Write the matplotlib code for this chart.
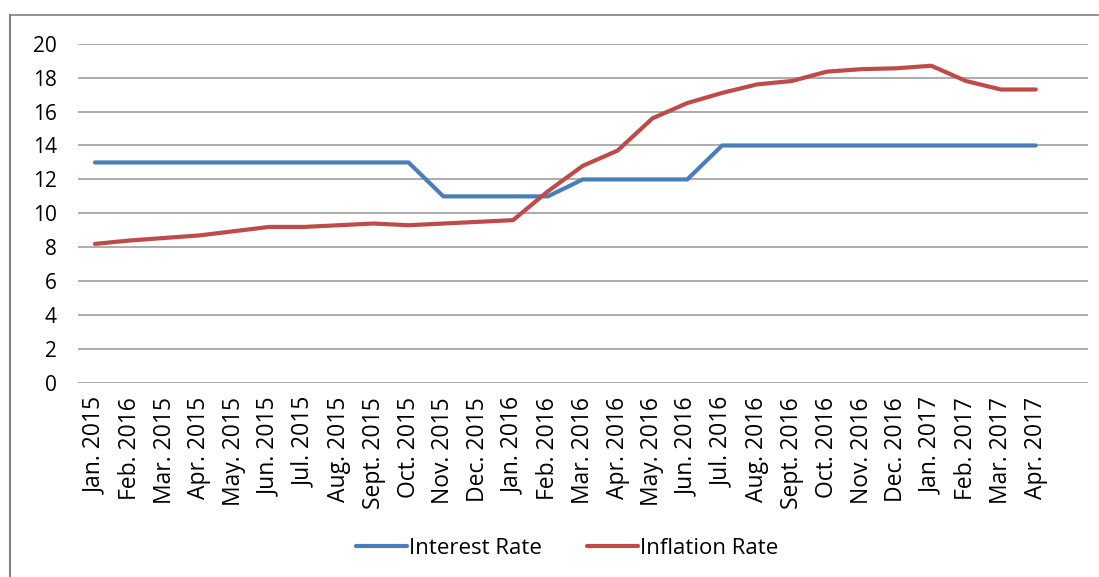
import matplotlib
matplotlib.use("Agg")
import matplotlib.pyplot as plt
from matplotlib.lines import Line2D

categories = ["Jan. 2015", "Feb. 2016", "Mar. 2015", "Apr. 2015", "May. 2015", "Jun. 2015",
              "Jul. 2015", "Aug. 2015", "Sept. 2015", "Oct. 2015", "Nov. 2015", "Dec. 2015",
              "Jan. 2016", "Feb. 2016", "Mar. 2016", "Apr. 2016", "May. 2016", "Jun. 2016",
              "Jul. 2016", "Aug. 2016", "Sept. 2016", "Oct. 2016", "Nov. 2016", "Dec. 2016",
              "Jan. 2017", "Feb. 2017", "Mar. 2017", "Apr. 2017"]
interest_rate = [13, 13, 13, 13, 13, 13, 13, 13, 13, 13, 11, 11, 11, 11,
                 12, 12, 12, 12, 14, 14, 14, 14, 14, 14, 14, 14, 14, 14]
inflation_rate = [8.2, 8.4, 8.55, 8.7, 8.95, 9.2, 9.2, 9.3, 9.4, 9.3, 9.4, 9.5, 9.6, 11.3,
                  12.8, 13.7, 15.6, 16.5, 17.1, 17.6, 17.8, 18.35, 18.5, 18.55, 18.7, 17.8,
                  17.3, 17.3]
y_ticks = list(range(0, 21, 2))

fig = plt.figure(figsize=(10.99, 5.77), dpi=100)
ax = fig.add_axes([77.5 / 1099, 1 - 383 / 577, (1088 - 77.5) / 1099, (383 - 43.7) / 577])

x = list(range(len(categories)))
ax.plot(x, interest_rate, color="#4A7EBB", lw=3, solid_capstyle="round", label="Interest Rate")
ax.plot(x, inflation_rate, color="#BE4B48", lw=3, solid_capstyle="round", label="Inflation Rate")

ax.set_xlim(-0.5, len(categories) + 0.5)
ax.set_ylim(0, 20)
ax.set_yticks(y_ticks)
ax.set_yticklabels([str(v) for v in y_ticks], fontsize=15, family="Open Sans")
ax.set_xticks(x)
ax.set_xticklabels(categories, rotation=90, fontsize=16.5, family="Open Sans", va="top")
ax.tick_params(axis="both", length=0, colors="black")
ax.tick_params(axis="y", pad=15)
ax.tick_params(axis="x", pad=10)
ax.grid(axis="y", color="#A6A6A6", lw=1.3)
ax.set_axisbelow(True)
for s in ax.spines.values():
    s.set_visible(False)

leg = fig.legend(loc="center", bbox_to_anchor=(567 / 1099, 1 - 548 / 577), ncol=2, frameon=False,
                 prop={"family": "Open Sans", "size": 16},
                 handlelength=2.3, handletextpad=0.1, columnspacing=2.0)

# outer chart frame (partially visible)
fig.add_artist(Line2D([10 / 1099, 10 / 1099], [0, 1 - 15 / 577], transform=fig.transFigure,
                      color="#808080", lw=1.5))
fig.add_artist(Line2D([10 / 1099, 1], [1 - 15 / 577, 1 - 15 / 577], transform=fig.transFigure,
                      color="#808080", lw=1.2))

fig.savefig("out.png", dpi=100)
